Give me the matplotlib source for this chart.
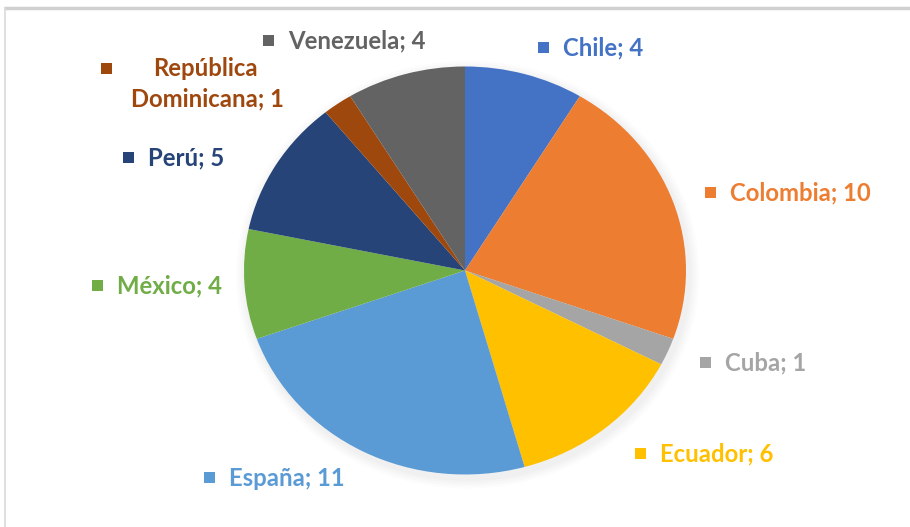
import matplotlib
matplotlib.use("Agg")
import matplotlib.pyplot as plt
from matplotlib.patches import Rectangle, Ellipse

# Participants by country
countries = ["Chile", "Colombia", "Cuba", "Ecuador", "España", "México",
             "Perú", "República\nDominicana", "Venezuela"]
counts = [4, 10, 1, 6, 11, 4, 5, 1, 4]
colors = ["#4472C4", "#ED7D31", "#A5A5A5", "#FFC000", "#5B9BD5", "#70AD47",
          "#264478", "#9E480E", "#636363"]

# Label anchor (square marker centre) in figure pixels, top-left origin
label_pos = [(543, 47), (710, 192), (705, 362), (640, 453), (209, 477),
             (97, 285), (128, 157), (106, 68), (268, 40)]

W, H = 910, 527
fig = plt.figure(figsize=(W / 100, H / 100), dpi=100)
fig.patch.set_facecolor("white")

# Overlay axes in pixel coordinates for frame, markers and labels
ov = fig.add_axes([0, 0, 1, 1])
ov.set_xlim(0, W)
ov.set_ylim(H, 0)
ov.axis("off")

# chart frame
ov.plot([4, W], [7.5, 7.5], color="#D0D0D0", lw=2.5, solid_capstyle="butt")
ov.plot([4.5, 4.5], [7.5, H], color="#D9D9D9", lw=1.2)

# Pie axes (slightly wider than tall)
cx, cy, rx, ry = 465, 270.5, 221, 204
m = 1.08
pax = fig.add_axes([(cx - rx * m) / W, (H - cy - ry * m) / H,
                    2 * rx * m / W, 2 * ry * m / H])
pax.axis("off")

# soft shadow
for i, a in enumerate([0.035, 0.03, 0.025, 0.02]):
    s = 1.0 + 0.012 * (i + 1)
    pax.add_patch(Ellipse((0.012, -0.02), 2 * s, 2 * s, color="#7F7F7F",
                          alpha=a, lw=0, zorder=0))

pax.pie(counts, colors=colors, startangle=90, counterclock=False, radius=1,
        wedgeprops=dict(linewidth=0), frame=False)
pax.set_aspect("auto")
pax.set_xlim(-m, m)
pax.set_ylim(-m, m)
pax.axis("off")

font = dict(family=["Lato", "DejaVu Sans"], weight="bold", fontsize=17.2)
sq = 11
for name, val, col, (x, y) in zip(countries, counts, colors, label_pos):
    ov.add_patch(Rectangle((x - sq / 2, y - sq / 2), sq, sq, color=col, lw=0))
    if "\n" in name:
        first, second = name.split("\n")
        ov.text(205, y + 1, first, color=col, ha="center", va="center", **font)
        ov.text(207, y + 31, f"{second}; {val}", color=col, ha="center",
                va="center", **font)
    else:
        ov.text(x + 20, y + 1, f"{name}; {val}", color=col, ha="left",
                va="center", **font)

fig.savefig("out.png", dpi=100, facecolor="white")
